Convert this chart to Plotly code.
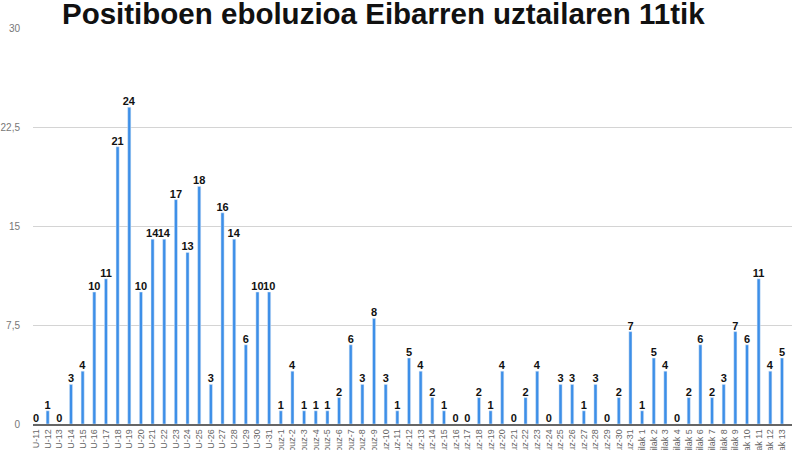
import plotly.graph_objects as go

# egunak: uztaila 11-31, abuztua 1-31, iraila 1-13
days_jul = list(range(11, 32))
days_aug = list(range(1, 32))
days_sep = list(range(1, 14))

categories = (["U-%d" % d for d in days_jul]
              + ["Abuz-%d" % d for d in days_aug]
              + ["Irailak %d" % d for d in days_sep])

cases_jul = [0, 1, 0, 3, 4, 10, 11, 21, 24, 10, 14, 14, 17, 13, 18, 3, 16, 14, 6, 10, 10]
cases_aug = [1, 4, 1, 1, 1, 2, 6, 3, 8, 3, 1, 5, 4, 2, 1, 0, 0, 2, 1, 4, 0, 2, 4, 0,
             3, 3, 1, 3, 0, 2, 7]
cases_sep = [1, 5, 4, 0, 2, 6, 2, 3, 7, 6, 11, 4, 5]
cases = cases_jul + cases_aug + cases_sep

y_ticks = [0, 7.5, 15, 22.5, 30]
y_tick_labels = ["0", "7,5", "15", "22,5", "30"]

fig = go.Figure()
fig.add_trace(go.Bar(
    x=categories,
    y=cases,
    width=0.27,
    marker_color="#3d8fe8",
    text=cases,
    textposition="outside",
    constraintext="none",
    textfont=dict(family="Liberation Sans", size=11, color="#111111", weight="bold"),
    cliponaxis=False,
))

# titulua, atzean zuria (30eko marra estaltzen du)
fig.add_shape(type="rect", xref="paper", yref="paper",
              x0=0.009, x1=0.93, y0=0.995, y1=1.07,
              fillcolor="white", line_width=0, layer="above")
fig.add_annotation(
    text="<b>Positiboen eboluzioa Eibarren uztailaren 11tik</b>",
    xref="paper", yref="paper", x=0.462, y=1.0,
    xanchor="center", yanchor="middle", yshift=15,
    showarrow=False,
    font=dict(family="Liberation Sans", size=29.5, color="#111111"),
)

fig.update_layout(
    width=800, height=450,
    margin=dict(l=33, r=8, t=28, b=26),
    paper_bgcolor="white", plot_bgcolor="white",
    showlegend=False,
)
fig.update_xaxes(
    type="category",
    range=[-0.26, 64.86],
    tickangle=-90,
    tickfont=dict(family="Liberation Sans", size=9, color="#666666"),
    showgrid=False,
    showline=True, linecolor="#666666", linewidth=1.5,
    ticks="",
    automargin=False,
)
fig.update_yaxes(
    range=[0, 30],
    tickvals=y_ticks,
    ticktext=y_tick_labels,
    tickfont=dict(family="Liberation Sans", size=10, color="#777777"),
    showgrid=True, gridcolor="#d4d4d4", gridwidth=1,
    zeroline=False,
    ticklabelstandoff=12,
    automargin=False,
)

# orriaren marjina kendu, irudia ertzean hasteko
fig.write_html("out.html", config={"displayModeBar": False},
               post_script="document.body.style.margin='0';")
